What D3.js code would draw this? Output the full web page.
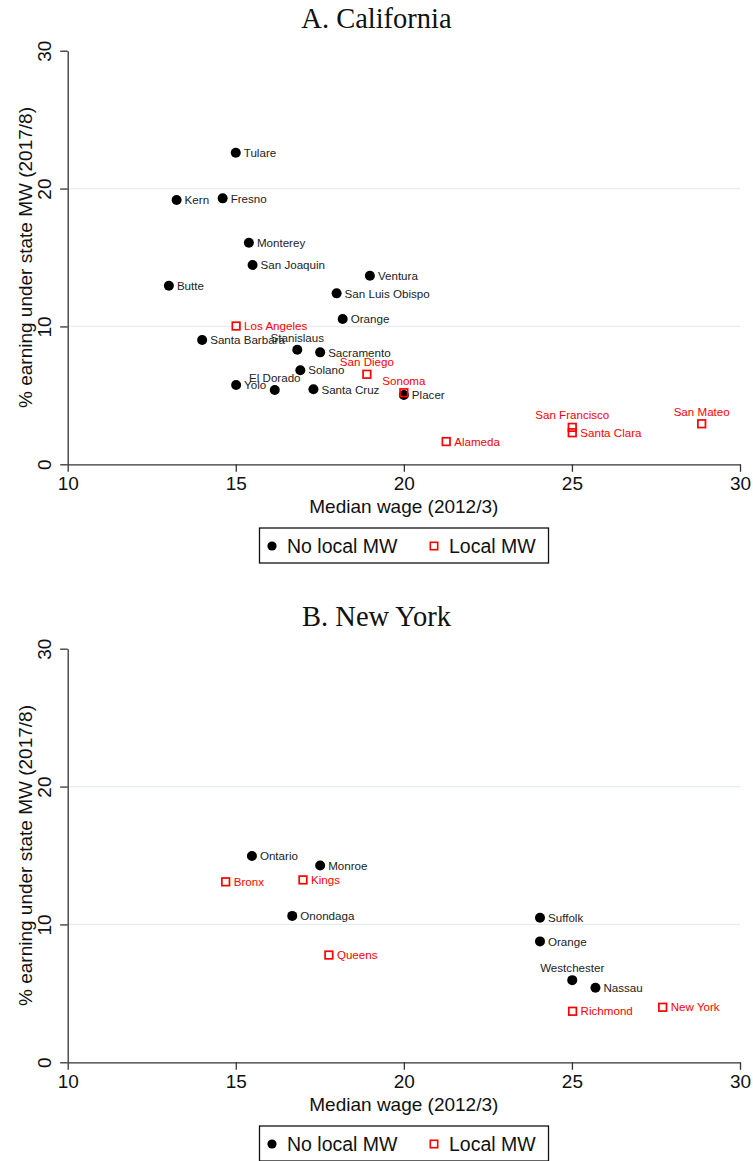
<!DOCTYPE html>
<html><head><meta charset="utf-8">
<script src="https://cdn.jsdelivr.net/npm/d3@7"></script>
<style>body{margin:0;background:#fff}text{font-family:"Liberation Sans",Arial,sans-serif}</style>
</head><body><svg id="c" width="753" height="1161"></svg>
<script>
// ---- Data: California ----
const caCounties = ["Tulare","Kern","Fresno","Monterey","San Joaquin","Butte","Ventura","San Luis Obispo","Orange","Los Angeles","Santa Barbara","Stanislaus","Sacramento","San Diego","Solano","Yolo","El Dorado","Santa Cruz","Sonoma","Placer","Alameda","San Francisco","Santa Clara","San Mateo"];
const caWage   = [15.00,13.24,14.61,15.39,15.50,13.01,18.99,18.00,18.18,15.01,14.00,16.83,17.51,18.90,16.92,15.01,16.16,17.31,20.00,20.00,21.26,25.01,25.01,28.86];
const caShare  = [22.60,19.17,19.29,16.07,14.45,12.95,13.68,12.40,10.54,10.03,9.01,8.31,8.12,6.53,6.82,5.75,5.39,5.44,5.19,5.03,1.65,2.68,2.29,2.94];
const caLocal  = [0,0,0,0,0,0,0,0,0,1,0,0,0,1,0,0,0,0,1,0,1,1,1,1];
// ---- Data: New York ----
const nyCounties = ["Ontario","Monroe","Onondaga","Suffolk","Orange","Westchester","Nassau","Bronx","Kings","Queens","Richmond","New York"];
const nyWage   = [15.48,17.51,16.68,24.05,24.05,25.01,25.70,14.70,17.00,17.77,25.02,27.70];
const nyShare  = [14.97,14.28,10.62,10.48,8.77,5.96,5.41,13.09,13.23,7.78,3.70,3.99];
const nyLocal  = [0,0,0,0,0,0,0,1,1,1,1,1];
// ---- Axes ----
const xTicks = [10,15,20,25,30];
const yTicks = [0,10,20,30];
const gridTicks = [10,20];
const legendLabels = ["No local MW","Local MW"];
const panelTitles = ["A. California","B. New York"];
const xTitle = "Median wage (2012/3)";
const yTitle = "% earning under state MW (2017/8)";
// labels placed above marker (others to the right)
const labelsAbove = {ca:["Stanislaus","San Diego","Sonoma","El Dorado","San Francisco","San Mateo"], ny:["Westchester"]};

const svg = d3.select("#c");
const axisCol = "#333";

function panel(key, names, wage, share, local, title, oy) {
  const g = svg.append("g").attr("transform", `translate(0,${oy})`);
  const x = d3.scaleLinear().domain([10,30]).range([67.7,740]);
  const y = d3.scaleLinear().domain([0,30]).range([464.3,50.7]);

  g.append("text").attr("x",376.5).attr("y",28).attr("text-anchor","middle")
    .style("font-family",'"Liberation Serif","Times New Roman",serif').style("font-size","28.5px").attr("fill","#111").text(title);

  g.selectAll("line.grid").data(gridTicks).enter().append("line")
    .attr("x1",x(10)).attr("x2",x(30)).attr("y1",d=>y(d)).attr("y2",d=>y(d))
    .attr("stroke","#e6edf2").attr("stroke-width",1.2);

  const xa = g.append("g").attr("transform",`translate(0,${y(0)})`)
    .call(d3.axisBottom(x).tickValues(xTicks).tickSize(7.5).tickSizeOuter(0).tickFormat(d3.format("d")));
  xa.select(".domain").attr("stroke",axisCol).attr("stroke-width",1.3);
  xa.selectAll(".tick line").attr("stroke",axisCol).attr("stroke-width",1.3);
  xa.selectAll(".tick text").attr("y",25.5).attr("dy",0).attr("fill","#111")
    .style("font-size","19px");

  const ya = g.append("g").attr("transform",`translate(${x(10)},0)`)
    .call(d3.axisLeft(y).tickValues(yTicks).tickSize(7.5).tickSizeOuter(0).tickFormat(d3.format("d")));
  ya.select(".domain").attr("stroke",axisCol).attr("stroke-width",1.3);
  ya.selectAll(".tick line").attr("stroke",axisCol).attr("stroke-width",1.3);
  ya.selectAll(".tick text").attr("transform","rotate(-90)").attr("x",0).attr("y",-17).attr("dy",0)
    .attr("text-anchor","middle").attr("fill","#111").style("font-size","19px");

  g.append("text").attr("x",x(20)).attr("y",513).attr("text-anchor","middle")
    .style("font-size","19px").attr("fill","#111").text(xTitle);
  g.append("text").attr("transform",`translate(32,${(y(0)+y(30))/2}) rotate(-90)`)
    .attr("text-anchor","middle").style("font-size","19px").attr("fill","#111").text(yTitle);

  const pts = names.map((n,i)=>({n, w:wage[i], s:share[i], l:local[i]}));
  const above = new Set(labelsAbove[key]);
  const dots = pts.filter(p=>!p.l), sq = pts.filter(p=>p.l);
  g.selectAll("circle.pt").data(dots).enter().append("circle")
    .attr("cx",p=>x(p.w)).attr("cy",p=>y(p.s)).attr("r",5).attr("fill","#000");
  g.selectAll("rect.pt").data(sq).enter().append("rect")
    .attr("x",p=>x(p.w)-3.8).attr("y",p=>y(p.s)-3.8).attr("width",7.6).attr("height",7.6)
    .attr("fill","none").attr("stroke","#ff0000").attr("stroke-width",1.7);
  g.selectAll("text.lab").data(pts).enter().append("text")
    .attr("x",p=>above.has(p.n)? x(p.w) : x(p.w)+8)
    .attr("y",p=>above.has(p.n)? y(p.s)-8 : y(p.s)+4.2)
    .attr("text-anchor",p=>above.has(p.n)?"middle":"start")
    .style("font-size","11.6px").attr("fill",p=>p.l?"#ff0000":"#222").text(p=>p.n);

  // legend
  const lg = g.append("g");
  lg.append("rect").attr("x",259.5).attr("y",528).attr("width",289).attr("height",35)
    .attr("fill","#fff").attr("stroke","#111").attr("stroke-width",1.3);
  lg.append("circle").attr("cx",272).attr("cy",546).attr("r",4.6).attr("fill","#000");
  lg.append("text").attr("x",287).attr("y",553).style("font-size","19.5px").attr("fill","#111").text(legendLabels[0]);
  lg.append("rect").attr("x",430.3).attr("y",542.3).attr("width",7.4).attr("height",7.4)
    .attr("fill","none").attr("stroke","#ff0000").attr("stroke-width",1.6);
  lg.append("text").attr("x",449).attr("y",553).style("font-size","19.5px").attr("fill","#111").text(legendLabels[1]);
}

panel("ca", caCounties, caWage, caShare, caLocal, panelTitles[0], 0);
panel("ny", nyCounties, nyWage, nyShare, nyLocal, panelTitles[1], 598);
</script></body></html>
